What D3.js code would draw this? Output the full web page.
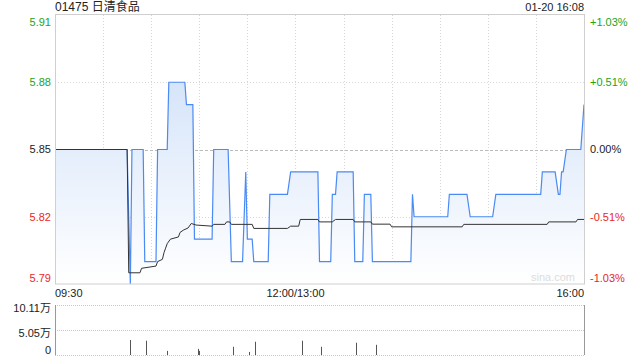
<!DOCTYPE html>
<html><head><meta charset="utf-8">
<script src="https://cdn.jsdelivr.net/npm/d3@7"></script>
<style>
html,body{margin:0;padding:0;background:#fff;}
svg{display:block;font-family:"Liberation Sans",Arial,"Noto Sans CJK SC",sans-serif;}
</style></head><body>
<svg id="c" width="640" height="360"></svg>
<script>
const title = "01475 日清食品";
const stamp = "01-20 16:08";
const prevClose = 5.85;
const priceTicks = [5.91, 5.88, 5.85, 5.82, 5.79];
const pctLabels = ["+1.03%", "+0.51%", "0.00%", "-0.51%", "-1.03%"];
const timeLabels = ["09:30", "12:00/13:00", "16:00"];
const volTicks = [101100, 50500, 0];
const volLabels = ["10.11万", "5.05万", "0"];

// price polyline vertices (time, price)
const priceTimes = ["09:30","10:15","10:17","10:18","10:25","10:26","10:33","10:34","10:40","10:41","10:51","10:52","10:56","10:57","11:08","11:09","11:18","11:20","11:27","11:29","11:30","11:33","11:34","11:43","11:44","11:55","11:57","13:14","13:15","13:22","13:23","13:25","13:26","13:36","13:37","13:42","13:43","13:47","13:48","14:12","14:13","14:14","14:35","14:36","14:47","14:49","15:03","15:05","15:33","15:34","15:42","15:44","15:45","15:46","15:47","15:49","15:58","16:00"];
const priceVals  = [5.85,5.85,5.79,5.85,5.85,5.80,5.80,5.85,5.85,5.88,5.88,5.87,5.87,5.81,5.81,5.85,5.85,5.80,5.80,5.84,5.81,5.81,5.80,5.80,5.83,5.83,5.84,5.84,5.80,5.80,5.83,5.83,5.84,5.84,5.80,5.80,5.83,5.83,5.80,5.80,5.83,5.82,5.82,5.83,5.83,5.82,5.82,5.83,5.83,5.84,5.84,5.83,5.83,5.84,5.84,5.85,5.85,5.87];

// average price vertices
const avgTimes = ["09:30","10:15","10:16","10:23","10:24","10:33","10:34","10:37","10:38","10:39","10:40","10:42","10:47","10:48","10:50","10:53","10:55","10:58","11:08","11:09","11:16","11:17","11:19","11:20","11:33","11:34","11:55","11:57","13:02","13:03","13:14","13:15","13:23","13:25","13:36","13:37","13:47","13:48","13:59","14:00","14:44","14:45","15:37","15:38","15:55","15:56","16:00"];
const avgVals  = [5.85,5.85,5.795,5.795,5.797,5.798,5.800,5.801,5.804,5.806,5.808,5.810,5.811,5.813,5.814,5.815,5.817,5.8163,5.8158,5.8166,5.8166,5.8177,5.8177,5.8166,5.8166,5.8148,5.8148,5.8158,5.8158,5.8188,5.8188,5.8177,5.8177,5.8188,5.8188,5.8177,5.8177,5.8167,5.8167,5.8155,5.8155,5.8166,5.8166,5.8177,5.8177,5.8188,5.8188];

// volume bars
const volTimes = ["10:17","10:27","10:40","10:59","11:00","11:21","11:31","11:35","13:04","13:16","13:38","13:50"];
const volVals  = [30300,28900,8300,12400,8300,16500,6200,26800,28900,16500,24800,20600];

function minuteIndex(t){
  const [h,m] = t.split(":").map(Number);
  const mins = h*60+m;
  if (mins <= 12*60) return mins - (9*60+30);
  return 150 + (mins - 13*60);
}

const svg = d3.select("#c");
const L = 55, R = 584, T = 15, B = 284;
const x = d3.scaleLinear().domain([0,330]).range([L,R]);
const y = d3.scaleLinear().domain([5.79,5.91]).range([B,T]);
const VT = 305, VB = 355;
const yv = d3.scaleLinear().domain([0,101100]).range([VB,VT]);

const defs = svg.append("defs");
const grad = defs.append("linearGradient").attr("id","g").attr("gradientUnits","userSpaceOnUse")
  .attr("x1",0).attr("x2",0).attr("y1",T).attr("y2",B);
grad.append("stop").attr("offset","0").attr("stop-color","#c9dcf8");
grad.append("stop").attr("offset","1").attr("stop-color","#ffffff");

// grid verticals
const vgrid = d3.range(1,11);
svg.append("g").selectAll("line").data(vgrid).join("line")
  .attr("x1",d=>Math.round(x(d*30))+0.5).attr("x2",d=>Math.round(x(d*30))+0.5)
  .attr("y1",T).attr("y2",B).attr("stroke","#d6d6d6").attr("stroke-dasharray","1,2");
// grid horizontals
svg.append("g").selectAll("line").data(priceTicks.slice(1,4)).join("line")
  .attr("x1",L).attr("x2",R).attr("y1",d=>Math.round(y(d))+0.5).attr("y2",d=>Math.round(y(d))+0.5)
  .attr("stroke",d=>d===prevClose?"#bbbbbb":"#d6d6d6").attr("stroke-dasharray",d=>d===prevClose?"3,2":"1,2");

const pData = priceTimes.map((t,i)=>({m:minuteIndex(t), v:priceVals[i]}));
const aData = avgTimes.map((t,i)=>({m:minuteIndex(t), v:avgVals[i]}));

svg.append("path").datum(pData)
  .attr("d", d3.area().x(d=>x(d.m)).y0(B).y1(d=>y(d.v)))
  .attr("fill","url(#g)");

// watermark
svg.append("text").attr("x",575).attr("y",281).attr("text-anchor","end")
  .attr("font-size",11).attr("fill","#dcdcdc").text("sina.com");

svg.append("path").datum(pData)
  .attr("d", d3.line().x(d=>x(d.m)).y(d=>y(d.v)))
  .attr("fill","none").attr("stroke","#4a8af4").attr("stroke-width",1.2);
svg.append("path").datum(aData)
  .attr("d", d3.line().x(d=>x(d.m)).y(d=>y(d.v)))
  .attr("fill","none").attr("stroke","#333333").attr("stroke-width",1);

// box
svg.append("rect").attr("x",L+0.5).attr("y",T-0.5).attr("width",R-L).attr("height",B-T+0.5)
  .attr("fill","none").attr("stroke","#cfcfcf");

// title
svg.append("text").attr("x",L).attr("y",11).attr("font-size",12).attr("fill","#222")
  .attr("font-family","'Liberation Sans','Noto Sans CJK SC',sans-serif").text(title);
svg.append("text").attr("x",R).attr("y",11).attr("text-anchor","end").attr("font-size",11).attr("fill","#222").text(stamp);

// left/right labels
const colorOf = v => v>prevClose ? "#1aa51a" : (v<prevClose ? "#e8271f" : "#222");
const labelY = (v,i) => i===0 ? y(v)+7 : (i===priceTicks.length-1 ? y(v)-6 : y(v)+0);
svg.append("g").selectAll("text").data(priceTicks).join("text")
  .attr("x",51).attr("y",(d,i)=>labelY(d,i)).attr("dy","0.35em").attr("text-anchor","end")
  .attr("font-size",11).attr("fill",d=>colorOf(d)).text(d=>d.toFixed(2));
svg.append("g").selectAll("text").data(priceTicks).join("text")
  .attr("x",590).attr("y",(d,i)=>labelY(d,i)).attr("dy","0.35em").attr("text-anchor","start")
  .attr("font-size",11).attr("fill",d=>colorOf(d)).text((d,i)=>pctLabels[i]);

// time labels
const tPos = [0,150,330];
const tAnchor = ["start","middle","end"];
svg.append("g").selectAll("text").data(timeLabels).join("text")
  .attr("x",(d,i)=>x(tPos[i])).attr("y",297).attr("text-anchor",(d,i)=>tAnchor[i])
  .attr("font-size",11).attr("fill","#222").text(d=>d);

// volume panel
svg.append("g").selectAll("line").data(volTicks).join("line")
  .attr("x1",L).attr("x2",R).attr("y1",d=>Math.round(yv(d))+0.5).attr("y2",d=>Math.round(yv(d))+0.5)
  .attr("stroke","#c8c8c8").attr("stroke-dasharray","1,1");
svg.append("line").attr("x1",L+0.5).attr("x2",L+0.5).attr("y1",VT).attr("y2",VB).attr("stroke","#999");
svg.append("line").attr("x1",R+0.5).attr("x2",R+0.5).attr("y1",VT).attr("y2",VB).attr("stroke","#999");
svg.append("g").selectAll("line").data(volTimes).join("line")
  .attr("x1",(d)=>Math.round(x(minuteIndex(d)))+0.5).attr("x2",(d)=>Math.round(x(minuteIndex(d)))+0.5)
  .attr("y1",VB).attr("y2",(d,i)=>yv(volVals[i])).attr("stroke","#555");
svg.append("g").selectAll("text").data(volLabels).join("text")
  .attr("x",51).attr("y",(d,i)=>yv(volTicks[i])+(i===2?-5:3)).attr("dy","0.35em").attr("text-anchor","end")
  .attr("font-size",11).attr("fill","#222").text(d=>d);
</script>
</body></html>
